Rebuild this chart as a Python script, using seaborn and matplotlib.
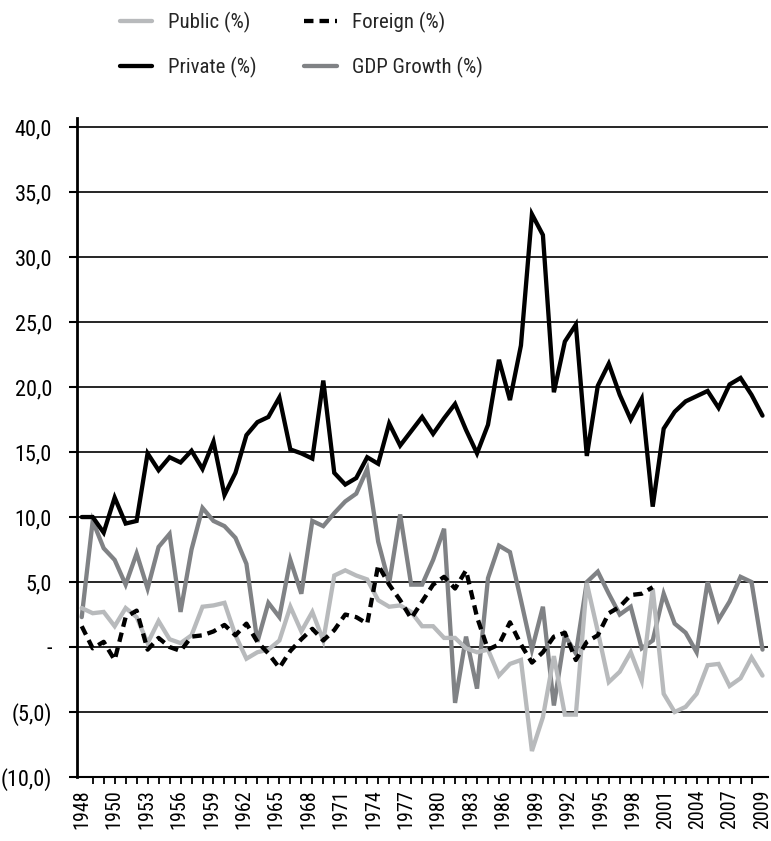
import numpy as np
import pandas as pd
import matplotlib
matplotlib.use("Agg")
import matplotlib.pyplot as plt
import seaborn as sns

# Estilo
sns.set_theme(style="white")
plt.rcParams['font.family'] = ['Roboto Condensed', 'Liberation Sans', 'DejaVu Sans']

# Dados
public = [3.0, 2.6, 2.7, 1.6, 3.0, 2.3, 0.3, 2.0, 0.6, 0.3, 0.9, 3.1, 3.2, 3.4, 0.9,
          -0.9, -0.4, -0.2, 0.5, 3.1, 1.2, 2.7, 0.5, 5.5, 5.9, 5.5, 5.2, 3.6, 3.1, 3.2,
          2.7, 1.6, 1.6, 0.7, 0.7, -0.1, -0.4, -0.2, -2.2, -1.3, -1.0, -8.0, -5.4, -0.7,
          -5.2, -5.2, 4.9, 1.2, -2.7, -1.9, -0.4, -2.6, 4.5, -3.6, -5.0, -4.6, -3.6,
          -1.4, -1.3, -3.0, -2.4, -0.8, -2.2]
private = [10.0, 10.0, 8.8, 11.5, 9.5, 9.7, 14.9, 13.6, 14.6, 14.2, 15.1, 13.7, 15.8,
           11.7, 13.4, 16.3, 17.3, 17.7, 19.2, 15.2, 14.9, 14.5, 20.5, 13.4, 12.5, 13.0,
           14.6, 14.1, 17.2, 15.5, 16.6, 17.7, 16.4, 17.6, 18.7, 16.7, 14.9, 17.1, 22.1,
           19.0, 23.2, 33.3, 31.7, 19.6, 23.5, 24.8, 14.7, 20.1, 21.8, 19.4, 17.5, 19.1,
           10.8, 16.8, 18.1, 18.9, 19.3, 19.7, 18.4, 20.2, 20.7, 19.4, 17.8]
foreign = [1.6, -0.1, 0.4, -1.0, 2.3, 2.8, -0.2, 0.7, 0.0, -0.3, 0.8, 0.9, 1.2, 1.7,
           0.9, 1.8, 0.4, -0.5, -1.6, -0.3, 0.6, 1.4, 0.5, 1.3, 2.5, 2.3, 1.8, 6.3, 4.8,
           3.6, 2.2, 3.5, 4.8, 5.4, 4.5, 5.9, 2.3, -0.2, 0.2, 1.9, 0.2, -1.2, -0.4, 0.8,
           1.1, -1.0, 0.4, 0.9, 2.6, 3.1, 4.0, 4.1, 4.6] + [np.nan] * 10
gdp = [2.3, 9.7, 7.6, 6.7, 4.8, 7.2, 4.5, 7.7, 8.7, 2.7, 7.5, 10.7, 9.7, 9.3, 8.4,
       6.4, 0.4, 3.4, 2.3, 6.7, 4.1, 9.7, 9.3, 10.3, 11.2, 11.8, 13.7, 8.1, 4.9, 10.2,
       4.8, 4.8, 6.7, 9.1, -4.3, 0.8, -3.2, 5.3, 7.8, 7.3, 3.6, -0.2, 3.1, -4.5, 0.9,
       -0.5, 5.0, 5.8, 4.1, 2.5, 3.1, -0.1, 0.5, 4.1, 1.8, 1.1, -0.4, 5.0, 2.1, 3.5,
       5.4, 5.0, -0.2]

tick_labels = ['1948', '1950', '1953', '1956', '1959', '1962', '1965', '1968', '1971',
               '1974', '1977', '1980', '1983', '1986', '1989', '1992', '1995', '1998',
               '2001', '2004', '2007', '2009']
y_ticks = [40, 35, 30, 25, 20, 15, 10, 5, 0, -5, -10]
y_tick_labels = ['40,0', '35,0', '30,0', '25,0', '20,0', '15,0', '10,0', '5,0', '-',
                 '(5,0)', '(10,0)']

series = ['Public (%)', 'Private (%)', 'Foreign (%)', 'GDP Growth (%)']
colors = ['#b8babc', '#000000', '#000000', '#808285']
styles = ['-', '-', (0, (2.2, 1.4)), '-']

df = pd.DataFrame({
    'idx': np.arange(len(private)),
    'Public (%)': public,
    'Private (%)': private,
    'Foreign (%)': foreign,
    'GDP Growth (%)': gdp,
})

fig = plt.figure(figsize=(7.71, 8.41), dpi=100)
ax = fig.add_axes([77 / 771, 1 - 777 / 841, (768 - 77) / 771, (777 - 118) / 841])

# ordem de desenho: GDP e Public atrás
for nome in ['GDP Growth (%)', 'Public (%)', 'Foreign (%)', 'Private (%)']:
    i = series.index(nome)
    sns.lineplot(data=df, x='idx', y=nome, ax=ax, color=colors[i], linewidth=3.1,
                 linestyle=styles[i], label=nome, legend=False)

for ln in ax.get_lines():
    ln.set_solid_joinstyle('miter')
    ln.set_dash_capstyle('butt')

n = len(private)
ax.set_xlim(-0.43, n - 0.5)
ax.set_ylim(-10, 40.7)

ax.set_yticks(y_ticks)
ax.set_yticklabels(y_tick_labels)
ax.set_xticks(np.linspace(0, n - 1, len(tick_labels)))
ax.set_xticklabels(tick_labels, rotation=90)
ax.set_xticks(np.arange(n), minor=True)

ax.yaxis.grid(True, color='black', linewidth=1.2)
ax.set_axisbelow(True)
ax.tick_params(axis='y', which='major', length=6, width=1.5, color='black',
               direction='out', left=True, labelsize=16, pad=12, labelcolor='black')
ax.tick_params(axis='x', which='major', length=0, labelsize=14.5, pad=9,
               labelcolor='black')
ax.tick_params(axis='x', which='minor', length=5, width=1.3, color='black',
               direction='out', bottom=True)

for s in ['top', 'right']:
    ax.spines[s].set_visible(False)
ax.spines['left'].set_color('black')
ax.spines['left'].set_linewidth(2)
ax.spines['bottom'].set_color('black')
ax.spines['bottom'].set_linewidth(1.5)
ax.set_xlabel('')
ax.set_ylabel('')

# Legenda
handles = {ln.get_label(): ln for ln in ax.get_lines()}
fig.legend([handles[s] for s in series], series, ncol=2, frameon=False,
           loc='upper left', bbox_to_anchor=(120 / 771, 1 - 12 / 841),
           fontsize=15, handlelength=1.55, handletextpad=0.75, columnspacing=2.3,
           labelspacing=1.15, borderpad=0, borderaxespad=0)

plt.savefig('out.png', dpi=100)
plt.close()
